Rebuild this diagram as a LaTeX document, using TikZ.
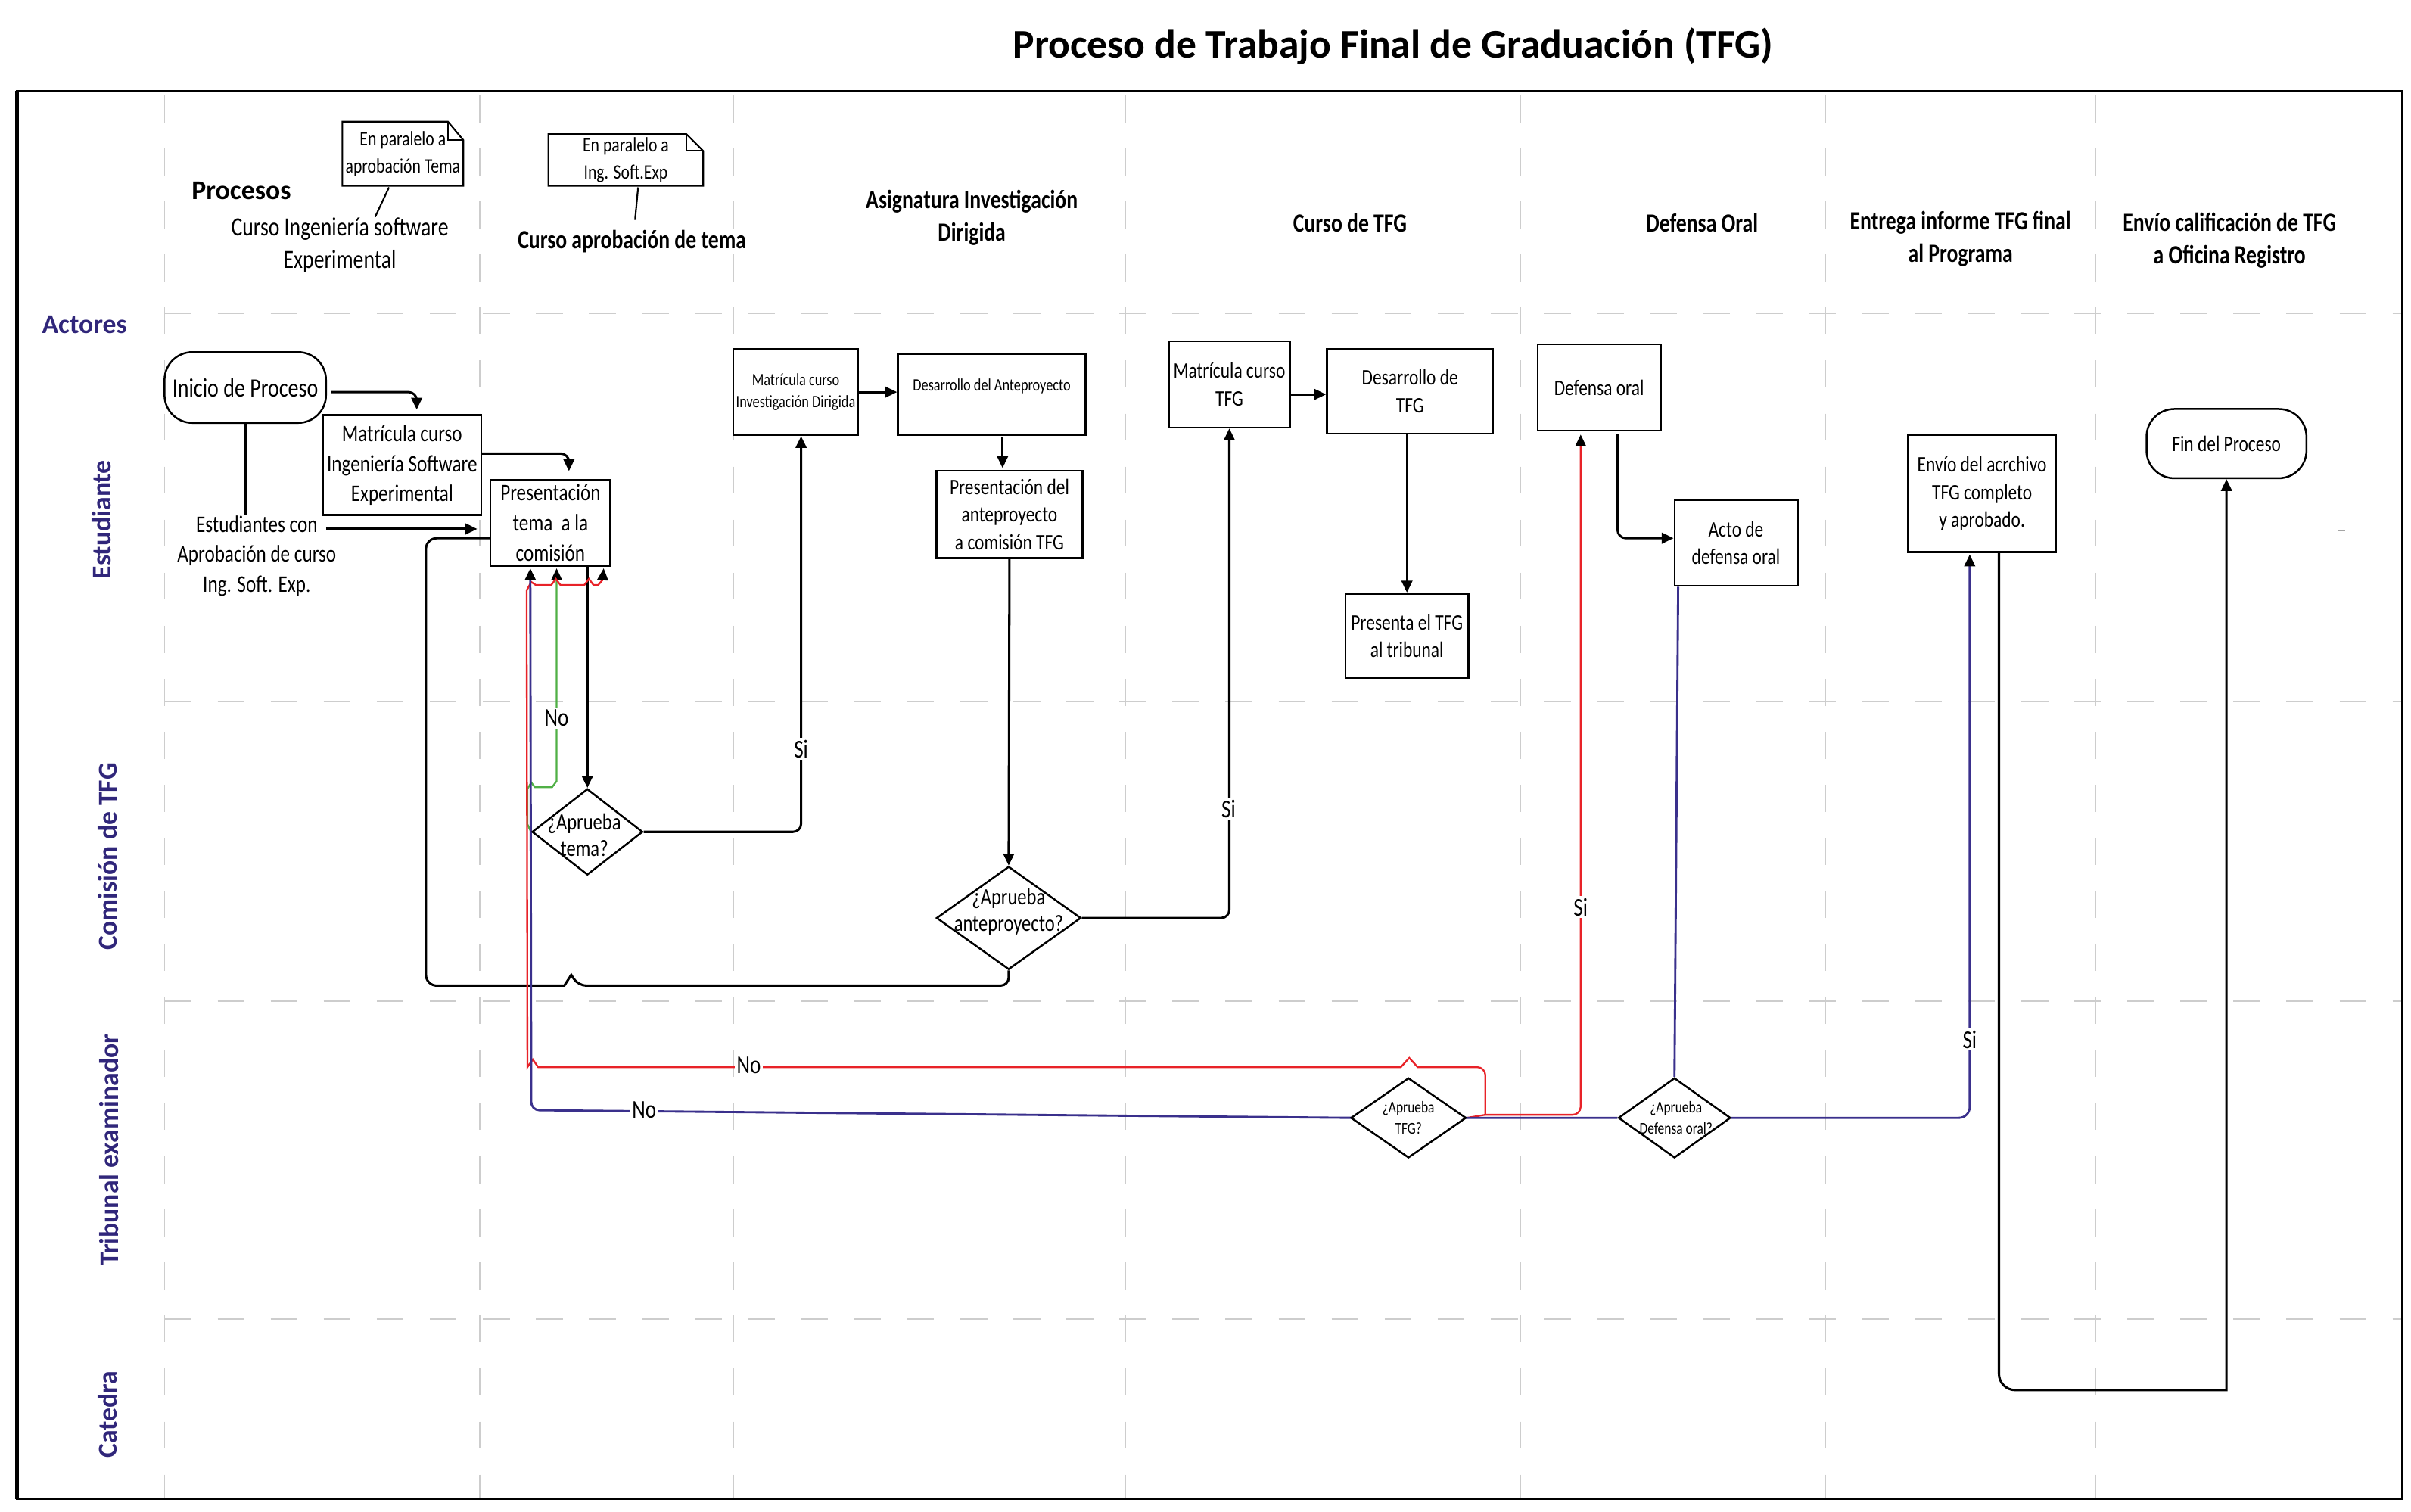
\documentclass[tikz,border=0pt]{standalone}
\usepackage{fontspec}
\setmainfont{Carlito}[FakeStretch=0.8]
\newfontfamily\widefont{Carlito}
\usetikzlibrary{shapes.geometric,arrows.meta,calc}
\pgfdeclarelayer{bg}
\pgfdeclarelayer{lines}
\pgfsetlayers{bg,lines,main}
\definecolor{cred}{RGB}{232,34,40}
\definecolor{cblue}{RGB}{58,48,140}
\definecolor{cgreen}{RGB}{80,176,70}
\definecolor{lanec}{RGB}{48,38,122}
\definecolor{sepc}{RGB}{205,205,205}
\tikzset{
  bx/.style={draw, fill=white, line width=0.7pt, inner sep=1pt, align=center},
  sz/.style 2 args={minimum width=#1*0.2mm, minimum height=#2*0.2mm},
  rbx/.style={bx, rounded corners=3.6mm},
  dia/.style={draw, fill=white, diamond, line width=0.7pt, inner sep=0pt},
  tA/.style={font=\fontsize{9.8}{12}\selectfont},
  tB/.style={font=\fontsize{8.8}{11.1}\selectfont},
  tC/.style={font=\fontsize{8.2}{10.2}\selectfont},
  tS/.style={font=\fontsize{6.4}{8}\selectfont},
  tN/.style={font=\fontsize{7.6}{10.2}\selectfont},
  tD/.style={font=\fontsize{6.1}{8}\selectfont},
  tQ/.style={font=\fontsize{8.6}{9.8}\selectfont},
  hdr/.style={font=\fontsize{9.7}{12}\selectfont\bfseries, align=center},
  lanelab/.style={font=\widefont\fontsize{10}{12}\selectfont\bfseries, text=lanec},
  arr/.style={-{Triangle[length=4.4pt,width=4pt,color=black]}},
  ln/.style={line width=0.85pt, rounded corners=3pt},
  rln/.style={draw=cred, line width=0.65pt},
  bln/.style={draw=cblue, line width=0.8pt},
  gln/.style={draw=cgreen, line width=0.65pt},
  sepl/.style={draw=sepc, line width=0.5pt, dash pattern=on 3.5mm off 3.4mm},
  elab/.style={fill=white, inner sep=0.8pt, font=\fontsize{9.5}{11}\selectfont},
  notel/.style={draw, line width=0.6pt},
}
\begin{document}
\begin{tikzpicture}[x=0.2mm,y=-0.2mm]
\useasboundingbox (0,0) rectangle (1568,983);
\begin{pgfonlayer}{bg}
  \fill[white] (0,0) rectangle (1568,983);
  \foreach \xx in {107,312,477,732,989,1187,1363} \draw[sepl] (\xx,62) -- (\xx,975);
  \foreach \yy in {204,456,651,858} \draw[sepl] (107,\yy) -- (1562,\yy);
  \draw[line width=0.7pt] (11,59) rectangle (1562,975);
  \draw[line width=1.4pt] (11,59) -- (11,975);
  \draw[sepc!80!black, line width=0.5pt] (1520,345) -- (1525,345);
\end{pgfonlayer}

% title and lane labels
\node[font=\widefont\fontsize{15}{18}\selectfont\bfseries] (title) at (906,30) {Proceso de Trabajo Final de Graduación (TFG)};
\node[lanelab] (actores) at (55,211) {Actores};
\node[lanelab, rotate=90] (lest) at (66,338) {Estudiante};
\node[lanelab, rotate=90] (lcom) at (70,557) {Comisión de TFG};
\node[lanelab, rotate=90] (ltri) at (71,748) {Tribunal examinador};
\node[lanelab, rotate=90] (lcat) at (70,920) {Catedra};

% process headers
\node[font=\widefont\fontsize{10}{12}\selectfont\bfseries] (procesos) at (157,124) {Procesos};
\node[font=\fontsize{9.7}{12}\selectfont, align=center] (h1) at (221,159.5) {Curso Ingeniería software\\Experimental};
\node[hdr] (h2) at (411,157) {Curso aprobación de tema};
\node[hdr] (h3) at (632,141.5) {Asignatura Investigación\\Dirigida};
\node[hdr] (h4) at (878,145) {Curso de TFG};
\node[hdr] (h5) at (1107,145) {Defensa Oral};
\node[hdr] (h6) at (1275,155.5) {Entrega informe TFG final\\al Programa};
\node[hdr] (h7) at (1450,156.5) {Envío calificación de TFG\\a Oficina Registro};

% notes
\node[tN, align=center, sz={78}{41}, inner sep=0pt] (n1) at (262,100) {En paralelo a\\aprobación Tema};
\node[tN, align=center, sz={100}{33}, inner sep=0pt] (n2) at (407,104) {En paralelo a\\Ing. Soft.Exp};
\draw[notel] (n1.south west) -- (n1.south east) -- ($(n1.north east)+(0,12)$) -- ($(n1.north east)+(-10,0)$) -- (n1.north west) -- cycle;
\draw[notel] ($(n1.north east)+(-10,0)$) -- ($(n1.north east)+(-10,12)$) -- ($(n1.north east)+(0,12)$);
\draw[notel] (n2.south west) -- (n2.south east) -- ($(n2.north east)+(0,11)$) -- ($(n2.north east)+(-11,0)$) -- (n2.north west) -- cycle;
\draw[notel] ($(n2.north east)+(-11,0)$) -- ($(n2.north east)+(-11,11)$) -- ($(n2.north east)+(0,11)$);
\coordinate (n1end) at (244,141);
\coordinate (n2end) at (413,143);
\draw[line width=0.6pt] ($(n1.south)+(-9,1)$) -- (n1end);
\draw[line width=0.6pt] ($(n2.south)+(8,1)$) -- (n2end);

% boxes
\node[rbx, sz={105}{46}, tA] (ini) at (159.5,252) {Inicio de Proceso};
\node[bx, sz={103}{65}, tB] (mis) at (261.5,302.5) {Matrícula curso\\Ingeniería Software\\Experimental};
\node[bx, sz={78}{56}, tB] (pre) at (358,340) {Presentación\\tema\ \ a la\\comisión};
\node[tB, align=center, anchor=north, inner sep=0pt] (est) at (167,335) {Estudiantes con\\Aprobación de curso\\Ing. Soft. Exp.};
\node[bx, sz={81}{56}, tS] (mid) at (517.5,255) {Matrícula curso\\Investigación Dirigida};
\node[bx, sz={122}{53}, tS] (dan) at (645,256.5) {Desarrollo del Anteproyecto\\[-1pt]};
\node[bx, sz={95}{57}, tC] (pan) at (656.5,334.5) {Presentación del\\anteproyecto\\a comisión TFG};
\node[bx, sz={79}{56}, tC] (mtfg) at (799.5,250) {Matrícula curso\\TFG};
\node[bx, sz={108}{55}, tC] (dtfg) at (917,254.5) {Desarrollo de\\TFG};
\node[bx, sz={80}{55}, tC] (ptfg) at (915,413.5) {Presenta el TFG\\al tribunal};
\node[bx, sz={80}{56}, tC] (dof) at (1040,252) {Defensa oral};
\node[bx, sz={80}{56}, tC] (acto) at (1129,353) {Acto de\\defensa oral};
\node[bx, sz={96}{76}, tC] (env) at (1289,321) {Envío del acrchivo\\TFG completo\\y aprobado.};
\node[rbx, sz={104}{45}, tC] (fin) at (1448,288.5) {Fin del Proceso};

% decisions
\node[dia, sz={72}{56}] (dtema) at (382,541) {};
\node[tQ, align=center, inner sep=0pt] (dtemat) at (380,543) {¿Aprueba\\tema?};
\node[dia, sz={94}{67}] (dante) at (656,597) {};
\node[tQ, align=center, inner sep=0pt] (dantet) at (656,593) {¿Aprueba\\anteproyecto?};
\node[dia, sz={75}{52}] (dtfgq) at (916,727) {};
\node[tD, align=center, inner sep=0pt] (dtfgqt) at (916,727) {¿Aprueba\\TFG?};
\node[dia, sz={73}{52}] (ddef) at (1089,727) {};
\node[tD, align=center, inner sep=0pt] (ddeft) at (1090,727) {¿Aprueba\\Defensa oral?};

\coordinate (rsp) at (966,725);

\begin{pgfonlayer}{lines}
  % black connectors
  \draw[ln,arr] ($(ini.east)+(3,3)$) -| ($(mis.north)+(9.5,-3)$);
  \draw[ln,arr] ($(mis.east)+(0,-7.5)$) -| ($(pre.north)+(12,-5)$);
  \draw[ln] (ini.south) -- (ini.south |- est.north);
  \draw[ln,arr] ($(est.north)+(45,9)$) -- ($(pre.west)+(-8,4)$);
  \draw[ln,arr] (dtema.north |- pre.south) -- (dtema.north);
  \draw[ln,arr] (dtema.east) -| ($(mid.south)+(3.5,0)$);
  \draw[ln,arr] (mid.east) -- (mid.east -| dan.west);
  \draw[ln,arr] ($(dan.south)+(7,1)$) -- ($(pan.north)+(-4.5,-1)$);
  \draw[ln,arr] (pan.south) -- (dante.north);
  \draw[ln,arr] (dante.east) -| (mtfg.south);
  \draw[line width=0.85pt] (dante.south) [rounded corners=3pt] -- (656,641) -- (376,641) [sharp corners] -- (371.5,634) -- (367,641) [rounded corners=4pt] -- (277,641) -- (277,350) -- ($(pre.west)+(0,10)$);
  \draw[ln,arr] ($(mtfg.east)+(0,6.5)$) -- ($(dtfg.west)+(0,2)$);
  \draw[ln,arr] (ptfg.north |- dtfg.south) -- (ptfg.north);
  \draw[ln,arr] ($(dof.south)+(12,2)$) |- ($(acto.west)+(0,-3)$);
  \draw[line width=0.85pt,arr] ($(env.south)+(11,-4)$) [rounded corners=6pt] -- (1300,904) [sharp corners] -- (1448,904) -- (fin.south);
  % green (No)
  \draw[gln,arr] (dtema.west) -- (343,536) -- (343,513) -- (345.5,509) -- (348,512) -- (359,512) -- (362,508) -- ($(pre.south)+(4,1)$);
  % red
  \draw[rln] (dtfgq.east) -- (rsp);
  \draw[rln,arr] (rsp) [rounded corners=3pt] -- (1028,725) -- ($(dof.south)+(-12,2)$);
  \draw[rln,arr] (rsp) [rounded corners=3pt] -- (966,694) [sharp corners] -- (922,694) -- (916.5,688) -- (911,694) -- (350,694) -- (346.5,689) -- (343,694) -- (342.5,384) -- (345.5,378.5) -- (348.5,380.5) -- (358.5,380.5) -- (361.5,376.5) -- (364.5,380.5) -- (380,380.5) -- (383,376.5) -- (386,380.5) -- (389,380.5) -- (392,377) -- ($(pre.south east)+(-5,1)$);
  % blue
  \draw[bln,arr,rounded corners=3pt] (ddef.west) -- (dtfgq.west) -- (345.5,722) -- ($(pre.south west)+(26.5,1)$);
  \draw[bln,arr,rounded corners=4pt] (ddef.east) -| ($(env.south)+(-8,1)$);
  \draw[bln] ($(acto.south west)+(3,0)$) -- (ddef.north);
\end{pgfonlayer}

% edge labels
\node[elab] (e1) at (362,467) {No};
\node[elab] (e2) at (521,487) {Si};
\node[elab] (e3) at (799,526) {Si};
\node[elab] (e4) at (487,693) {No};
\node[elab] (e5) at (419,722) {No};
\node[elab] (e6) at (1028,590) {Si};
\node[elab] (e7) at (1281,676) {Si};
\end{tikzpicture}
\end{document}
